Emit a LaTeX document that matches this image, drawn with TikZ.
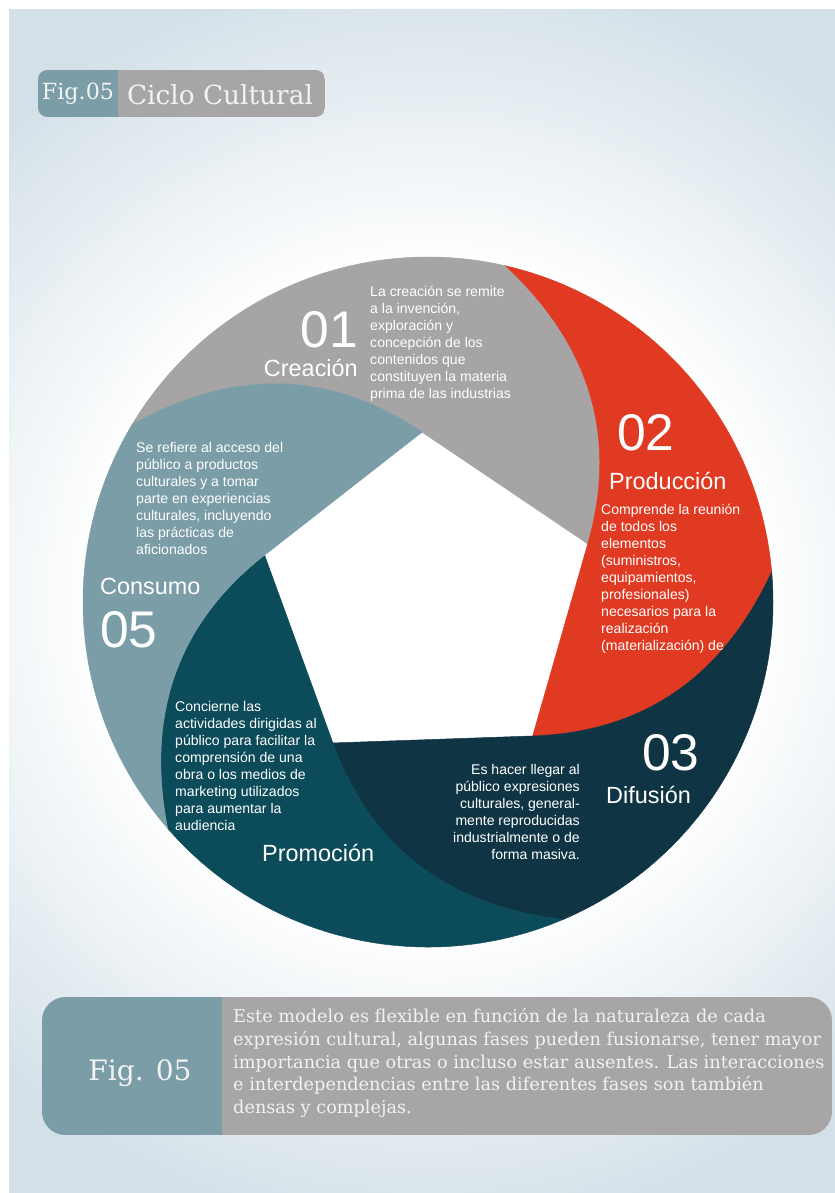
\documentclass[tikz,border=0pt]{standalone}
\usepackage{fontspec}
\setmainfont{DejaVu Serif}
\newfontfamily\wheelfont{Liberation Sans}
\usepackage{tikz}
\definecolor{creacion-gray}{HTML}{A7A4A6}
\definecolor{produccion-red}{HTML}{E03A22}
\definecolor{difusion-navy}{HTML}{0F3544}
\definecolor{promocion-teal}{HTML}{0C4B5A}
\definecolor{consumo-teal}{HTML}{7B9DA7}
\definecolor{fig-teal}{HTML}{7A9DA7}
\definecolor{fig-gray}{HTML}{A8A5A7}
\definecolor{bg-blue}{HTML}{D3E0E8}
\pgfdeclareradialshading{bg-glow}{\pgfpointorigin}{color(0bp)=(white); color(13bp)=(white); color(25bp)=(bg-blue); color(50bp)=(bg-blue)}
\tikzset{
  phase-number/.style={font=\wheelfont\fontsize{44}{44}\selectfont, text=white, inner sep=0pt},
  phase-title/.style={font=\wheelfont\fontsize{20}{20}\selectfont, text=white, inner sep=0pt},
  phase-text/.style={font=\wheelfont\fontsize{12}{14.5}\selectfont, text=white, inner sep=0pt},
  fig-label/.style={text=white!95!black, inner sep=0pt},
}
\newcommand{\pentr}{170}
\newcommand{\circr}{345}
% one phase of the wheel: #1 = angle of its first pentagon corner, #2 = colour
\newcommand{\tikzphase}[2]{%
\pgfmathsetmacro{\nextangle}{#1+72}
\pgfmathsetmacro{\nextout}{\nextangle+54}
\pgfmathsetmacro{\nextin}{\nextangle+297}
\pgfmathsetmacro{\nextrim}{\nextangle+57}
\pgfmathsetmacro{\thisrim}{#1+57}
\pgfmathsetmacro{\thisout}{#1+297}
\pgfmathsetmacro{\thisin}{#1+54}
\fill[#2, draw=#2, line width=0.4pt] (#1:\pentr) -- (\nextangle:\pentr)
  to[out=\nextout, in=\nextin] (\nextrim:\circr)
  arc[start angle=\nextrim, end angle=\thisrim, radius=\circr]
  to[out=\thisout, in=\thisin] (#1:\pentr) -- cycle;
}
\begin{document}
\begin{tikzpicture}[x=0.03cm, y=0.03cm]
\useasboundingbox (0,0) rectangle (835,-1193);
% background
\fill[white] (0,0) rectangle (835,-1193);
\begin{scope}
  \clip (9,-9) rectangle (835,-1193);
  \fill[bg-blue] (9,-9) rectangle (835,-1193);
  \shade[shading=bg-glow] (428,-600) circle (640);
\end{scope}
% header
\begin{scope}
  \clip[rounded corners=8] (38,-70) rectangle (325,-117);
  \fill[fig-teal] (38,-70) rectangle (118,-117);
  \fill[fig-gray] (118,-70) rectangle (325,-117);
\end{scope}
\node[fig-label, font=\fontsize{19}{19}\selectfont] (head-fig) at (78,-94) {Fig.05};
\node[fig-label, font=\fontsize{22.5}{22.5}\selectfont] (head-title) at (220,-95) {Ciclo Cultural};
% wheel
\begin{scope}[shift={(428,-602)}]
  \tikzphase{20}{creacion-gray}
  \tikzphase{308}{produccion-red}
  \tikzphase{236}{difusion-navy}
  \tikzphase{164}{promocion-teal}
  \tikzphase{92}{consumo-teal}
\end{scope}
% 01 creacion
\node[phase-number, anchor=base east] (num-01) at (358,-347) {01};
\node[phase-title, anchor=base east] (creacion) at (358,-376) {Creación};
\node[phase-text, anchor=north west, align=left] (creacion-text) at (370,-286)
  {La creación se remite\\a la invención,\\exploración y\\concepción de los\\contenidos que\\constituyen la materia\\prima de las industrias};
% 02 produccion
\node[phase-number, anchor=base west] (num-02) at (617,-450) {02};
\node[phase-title, anchor=base west] (produccion) at (609,-489) {Producción};
\node[phase-text, anchor=north west, align=left] (produccion-text) at (601,-504)
  {Comprende la reunión\\de todos los\\elementos\\(suministros,\\equipamientos,\\profesionales)\\necesarios para la\\realización\\(materialización) de};
% 03 difusion
\node[phase-number, anchor=base west] (num-03) at (642,-770) {03};
\node[phase-title, anchor=base west] (difusion) at (606,-803) {Difusión};
\node[phase-text, anchor=north east, align=right] (difusion-text) at (580,-764)
  {Es hacer llegar al\\público expresiones\\culturales, general-\\mente reproducidas\\industrialmente o de\\forma masiva.};
% 04 promocion
\node[phase-title, anchor=base west] (promocion) at (262,-861) {Promoción};
\node[phase-text, anchor=north west, align=left] (promocion-text) at (175,-701)
  {Concierne las\\actividades dirigidas al\\público para facilitar la\\comprensión de una\\obra o los medios de\\marketing utilizados\\para aumentar la\\audiencia};
% 05 consumo
\node[phase-title, anchor=base west] (consumo) at (100,-594) {Consumo};
\node[phase-number, anchor=base west] (num-05) at (100,-647) {05};
\node[phase-text, anchor=north west, align=left] (consumo-text) at (136,-442)
  {Se refiere al acceso del\\público a productos\\culturales y a tomar\\parte en experiencias\\culturales, incluyendo\\las prácticas de\\aficionados};
% caption box
\begin{scope}
  \clip[rounded corners=20] (42,-997) rectangle (832,-1135);
  \fill[fig-teal] (42,-997) rectangle (222,-1135);
  \fill[fig-gray] (222,-997) rectangle (832,-1135);
\end{scope}
\node[fig-label, font=\fontsize{24}{24}\selectfont] (caption-fig) at (140,-1073) {Fig. 05};
\node[fig-label, anchor=north west, align=left, font=\fontsize{15.1}{19.5}\selectfont] (caption-text) at (233,-1008)
  {Este modelo es flexible en función de la naturaleza de cada\\expresión cultural, algunas fases pueden fusionarse, tener mayor\\importancia que otras o incluso estar ausentes. Las interacciones\\e interdependencias entre las diferentes fases son también\\densas y complejas.};
\end{tikzpicture}
\end{document}
